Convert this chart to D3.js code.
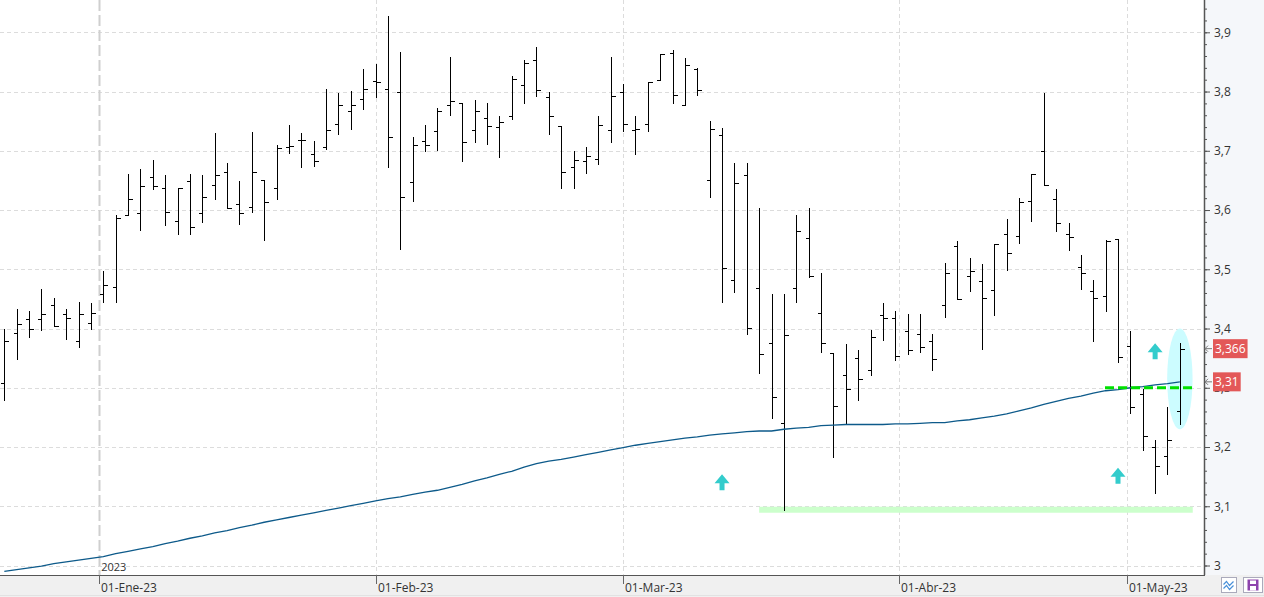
<!DOCTYPE html>
<html>
<head>
<meta charset="utf-8">
<script src="https://cdn.jsdelivr.net/npm/d3@7"></script>
<style>
  body { margin: 0; background: #fff; overflow: hidden; }
  text { font-family: "Segoe UI", "Open Sans", "Noto Sans", sans-serif; }
</style>
</head>
<body>
<script>
// ---- data ----
const firstDay = '2022-12-20'
const holidays = ['2022-12-26', '2023-04-07', '2023-04-10', '2023-05-01']
const monthStarts = ['2023-01-01', '2023-02-01', '2023-03-01', '2023-04-01', '2023-05-01']

const opens = [3.308,3.392,3.416,3.416,3.440,3.425,3.379,3.409,3.458,3.470,
  3.591,3.595,3.655,3.637,3.581,3.649,3.595,3.643,3.665,3.610,
  3.605,3.650,3.637,3.706,3.719,3.694,3.706,3.745,3.768,3.787,
  3.817,3.804,3.799,3.647,3.717,3.733,3.778,3.780,3.735,3.755,
  3.740,3.758,3.811,3.854,3.790,3.741,3.672,3.682,3.686,3.735,
  3.800,3.735,3.746,3.820,3.865,3.778,3.838,3.650,3.727,3.482,
  3.659,3.469,3.376,3.240,3.469,3.553,3.427,3.359,3.322,3.351,
  3.330,3.423,3.418,3.396,3.391,3.379,3.440,3.540,3.489,3.481,
  3.465,3.560,3.557,3.616,3.700,3.619,3.560,3.504,3.464,3.455,
  3.551,3.371,3.290,3.200,3.184,3.260]
const highs = [3.400,3.433,3.430,3.467,3.452,3.433,3.445,3.443,3.497,3.591,
  3.661,3.669,3.685,3.659,3.638,3.661,3.659,3.730,3.679,3.649,
  3.731,3.650,3.709,3.743,3.730,3.716,3.804,3.798,3.801,3.838,
  3.847,3.928,3.866,3.724,3.743,3.772,3.858,3.780,3.785,3.780,
  3.758,3.826,3.854,3.875,3.800,3.741,3.700,3.707,3.758,3.859,
  3.812,3.758,3.816,3.863,3.870,3.856,3.839,3.751,3.739,3.679,
  3.679,3.604,3.459,3.458,3.591,3.604,3.494,3.359,3.374,3.364,
  3.398,3.443,3.430,3.425,3.425,3.391,3.511,3.548,3.519,3.509,
  3.543,3.585,3.621,3.661,3.798,3.636,3.578,3.524,3.482,3.550,
  3.551,3.396,3.298,3.211,3.268,3.376]
const lows = [3.280,3.348,3.385,3.398,3.404,3.383,3.368,3.400,3.444,3.444,
  3.591,3.567,3.636,3.575,3.559,3.560,3.580,3.619,3.603,3.577,
  3.596,3.550,3.619,3.697,3.672,3.675,3.703,3.729,3.737,3.771,
  3.790,3.673,3.535,3.616,3.700,3.702,3.761,3.683,3.714,3.712,
  3.690,3.753,3.781,3.793,3.729,3.638,3.638,3.663,3.677,3.714,
  3.733,3.694,3.734,3.819,3.781,3.778,3.795,3.622,3.445,3.461,
  3.391,3.325,3.249,3.094,3.445,3.487,3.361,3.183,3.238,3.279,
  3.321,3.380,3.347,3.357,3.361,3.330,3.419,3.450,3.463,3.366,
  3.423,3.499,3.545,3.582,3.642,3.565,3.533,3.467,3.379,3.430,
  3.344,3.258,3.195,3.123,3.154,3.238]
const closes = [3.379,3.408,3.400,3.425,3.405,3.417,3.425,3.427,3.474,3.586,
  3.618,3.641,3.640,3.596,3.637,3.571,3.622,3.659,3.603,3.595,
  3.665,3.613,3.704,3.708,3.719,3.682,3.735,3.778,3.778,3.805,
  3.816,3.723,3.622,3.709,3.709,3.768,3.784,3.714,3.767,3.741,
  3.748,3.822,3.848,3.802,3.758,3.664,3.684,3.692,3.743,3.792,
  3.745,3.736,3.816,3.863,3.795,3.844,3.803,3.736,3.503,3.646,
  3.401,3.357,3.285,3.389,3.565,3.489,3.376,3.270,3.298,3.315,
  3.386,3.418,3.354,3.363,3.369,3.349,3.494,3.450,3.497,3.452,
  3.543,3.528,3.614,3.661,3.642,3.578,3.555,3.494,3.452,3.548,
  3.352,3.268,3.219,3.168,3.212,3.366]
// moving average as drawn on the chart
const movingAvg = [2.990,2.993,2.996,2.999,3.003,3.006,3.009,3.012,3.015,3.020,
  3.024,3.028,3.032,3.037,3.041,3.046,3.050,3.055,3.059,3.064,
  3.068,3.073,3.077,3.081,3.085,3.089,3.093,3.097,3.101,3.105,
  3.109,3.113,3.116,3.120,3.124,3.127,3.132,3.137,3.143,3.148,
  3.154,3.159,3.166,3.172,3.176,3.179,3.183,3.187,3.191,3.195,
  3.199,3.203,3.206,3.209,3.212,3.215,3.217,3.220,3.222,3.224,
  3.226,3.227,3.227,3.230,3.232,3.233,3.236,3.237,3.238,3.238,
  3.238,3.238,3.239,3.239,3.240,3.241,3.241,3.244,3.246,3.249,
  3.252,3.256,3.261,3.266,3.272,3.277,3.282,3.286,3.291,3.295,
  3.297,3.300,3.302,3.305,3.307,3.310]

const yTicks = [3, 3.1, 3.2, 3.3, 3.4, 3.5, 3.6, 3.7, 3.8, 3.9]
const lastClose = 3.366
const lastAvg = 3.31

// annotations (bar index / price)
const supportLevel = 3.094, supportFrom = 61, supportTo = 96.04
const dashLevel = 3.30, dashFrom = 88.95, dashTo = 96.0
const arrowIdx = [58, 90, 93]
const arrowTop = [3.154, 3.165, 3.375]
const ovalIdx = 95, ovalMid = 3.315, ovalHalf = 0.085

// ---- layout ----
const W = 1264, H = 597
const plotRight = 1204, plotBottom = 575

const utc = d => new Date(d + 'T00:00:00Z')
const dayMs = 86400000
const dates = []
for (let t = utc(firstDay).getTime(); dates.length < opens.length; t += dayMs) {
  const d = new Date(t)
  const wd = d.getUTCDay()
  if (wd === 0 || wd === 6) continue
  if (holidays.includes(d.toISOString().slice(0, 10))) continue
  dates.push(d)
}
const bars = opens.map((o, i) => ({i, o, h: highs[i], l: lows[i], c: closes[i], date: dates[i]}))

// position of a calendar date on the bar index axis
function datePos(d) {
  const t = d.getTime()
  const k = d3.bisectLeft(dates.map(x => x.getTime()), t)
  if (k < dates.length && dates[k].getTime() === t) return k
  const a = dates[k - 1].getTime(), b = dates[k].getTime()
  return k - 1 + (t - a) / (b - a)
}

const esLocale = d3.timeFormatLocale({
  dateTime: '%A, %e de %B de %Y, %X', date: '%d/%m/%Y', time: '%H:%M:%S',
  periods: ['AM', 'PM'],
  days: ['domingo','lunes','martes','miércoles','jueves','viernes','sábado'],
  shortDays: ['dom','lun','mar','mié','jue','vie','sáb'],
  months: ['enero','febrero','marzo','abril','mayo','junio','julio','agosto','septiembre','octubre','noviembre','diciembre'],
  shortMonths: ['Ene','Feb','Mar','Abr','May','Jun','Jul','Ago','Sep','Oct','Nov','Dic']
})
const fmtDate = esLocale.utcFormat('%d-%b-%y')
const numLocale = d3.formatLocale({decimal: ',', thousands: '.', grouping: [3], currency: ['', '€']})
const fmtTick = v => numLocale.format('.1f')(v).replace(/,0$/, '')
const months = monthStarts.map(s => ({date: utc(s), pos: datePos(utc(s)), label: fmtDate(utc(s))}))

const x = d3.scaleLinear().domain([-0.35, 96.95]).range([0, plotRight])
const y = d3.scaleLinear().domain([3, 3.9]).range([565.5, 32.3])

const svg = d3.select('body').append('svg')
  .attr('width', W).attr('height', H)

svg.append('rect').attr('width', W).attr('height', H).attr('fill', '#fff')
svg.append('rect').attr('x', plotRight).attr('y', 0)
  .attr('width', W - plotRight).attr('height', plotBottom).attr('fill', '#f5f7fa')
svg.append('rect').attr('x', 0).attr('y', plotBottom)
  .attr('width', W).attr('height', H - plotBottom).attr('fill', '#f0f0f0')
svg.append('line').attr('x1', 0).attr('x2', W).attr('y1', 595.5).attr('y2', 595.5)
  .attr('stroke', '#e2e2e2')

svg.append('clipPath').attr('id', 'plot')
  .append('rect').attr('width', plotRight).attr('height', plotBottom)

const g = svg.append('g').attr('clip-path', 'url(#plot)')

// grid
g.selectAll('.hgrid').data(yTicks).join('line')
  .attr('class', 'hgrid')
  .attr('x1', 0).attr('x2', plotRight)
  .attr('y1', d => Math.round(y(d)) + 0.5).attr('y2', d => Math.round(y(d)) + 0.5)
  .attr('stroke', '#dcdcdc').attr('stroke-dasharray', '4,3')

g.selectAll('.vgrid').data(months).join('line')
  .attr('class', 'vgrid')
  .attr('x1', d => Math.round(x(d.pos)) + 0.5).attr('x2', d => Math.round(x(d.pos)) + 0.5)
  .attr('y1', 0).attr('y2', plotBottom)
  .attr('stroke', (d, i) => i === 0 ? '#cfcfcf' : '#dcdcdc')
  .attr('stroke-width', (d, i) => i === 0 ? 2 : 1)
  .attr('stroke-dasharray', (d, i) => i === 0 ? '11,4' : '4,3')

// highlight oval on the last bar
g.append('ellipse')
  .attr('cx', x(ovalIdx)).attr('cy', y(ovalMid))
  .attr('rx', 12.7).attr('ry', y(ovalMid - ovalHalf) - y(ovalMid))
  .attr('fill', '#ccfcff')

// support band
g.append('line')
  .attr('x1', x(supportFrom)).attr('x2', x(supportTo))
  .attr('y1', y(supportLevel)).attr('y2', y(supportLevel))
  .attr('stroke', '#ccffcc').attr('stroke-width', 6)

// OHLC bars
const px = i => Math.round(x(i)) + 0.5
const py = v => Math.round(y(v)) + 0.5
const bar = g.selectAll('.bar').data(bars).join('g').attr('class', 'bar')
  .attr('stroke', '#000').attr('shape-rendering', 'crispEdges')
bar.append('line')
  .attr('x1', d => px(d.i)).attr('x2', d => px(d.i))
  .attr('y1', d => Math.round(y(d.h))).attr('y2', d => Math.round(y(d.l)) + 1)
bar.append('line')
  .attr('x1', d => px(d.i) - 4).attr('x2', d => px(d.i))
  .attr('y1', d => py(d.o)).attr('y2', d => py(d.o))
bar.append('line')
  .attr('x1', d => px(d.i)).attr('x2', d => px(d.i) + 4)
  .attr('y1', d => py(d.c)).attr('y2', d => py(d.c))

// moving average
g.append('path')
  .datum(movingAvg)
  .attr('fill', 'none').attr('stroke', '#0d5a8a').attr('stroke-width', 1.3)
  .attr('d', d3.line().x((d, i) => x(i)).y(d => y(d)))

// dashed level
g.append('line')
  .attr('x1', x(dashFrom)).attr('x2', x(dashTo))
  .attr('y1', y(dashLevel)).attr('y2', y(dashLevel))
  .attr('stroke', '#00e000').attr('stroke-width', 3).attr('stroke-dasharray', '9,4')

// up arrows
g.selectAll('.arrow').data(arrowIdx).join('path')
  .attr('class', 'arrow')
  .attr('fill', '#33cccc')
  .attr('d', (d, k) => {
    const cx = x(d), t = y(arrowTop[k])
    return `M${cx},${t} L${cx + 7.5},${t + 9} L${cx + 2.5},${t + 9} L${cx + 2.5},${t + 16}` +
      ` L${cx - 2.5},${t + 16} L${cx - 2.5},${t + 9} L${cx - 7.5},${t + 9} Z`
  })

// "2023" year marker
svg.append('text').attr('x', x(months[0].pos) + 2).attr('y', 571)
  .attr('font-size', 11).attr('fill', '#333').text(months[0].date.getUTCFullYear())

// right axis
const minorTicks = d3.range(3, 3.96, 0.02).filter(v => y(v) > 0 && y(v) < plotBottom)
svg.append('g').attr('transform', `translate(${plotRight},0)`)
  .call(d3.axisRight(y).tickValues(minorTicks).tickSize(3).tickFormat(''))
  .call(a => a.select('.domain').remove())
  .call(a => a.selectAll('line').attr('stroke', '#555'))
svg.append('g').attr('transform', `translate(${plotRight},0)`)
  .call(d3.axisRight(y).tickValues(yTicks).tickSize(6).tickPadding(4).tickFormat(fmtTick))
  .call(a => a.select('.domain').remove())
  .call(a => a.selectAll('line').attr('stroke', '#555'))
  .call(a => a.selectAll('text').attr('font-size', 12).attr('fill', '#333')
    .attr('font-family', '"Segoe UI", "Open Sans", "Noto Sans", sans-serif'))
svg.append('line').attr('x1', plotRight + 0.5).attr('x2', plotRight + 0.5)
  .attr('y1', 0).attr('y2', plotBottom).attr('stroke', '#555').attr('stroke-width', 1.5)

// bottom axis
svg.append('line').attr('x1', 0).attr('x2', plotRight + 1)
  .attr('y1', plotBottom + 0.5).attr('y2', plotBottom + 0.5).attr('stroke', '#555')
const xa = svg.append('g').selectAll('g').data(months).join('g')
  .attr('transform', d => `translate(${Math.round(x(d.pos)) + 0.5},${plotBottom})`)
xa.append('line').attr('y1', 0).attr('y2', 9).attr('stroke', '#666')
xa.append('text').attr('x', 1.5).attr('y', 17).attr('font-size', 12).attr('fill', '#333')
  .text(d => d.label)

// last value labels
const tags = [
  {v: lastClose, text: numLocale.format('.3f')(lastClose)},
  {v: lastAvg, text: numLocale.format('.2f')(lastAvg)}
]
const tag = svg.selectAll('.tag').data(tags).join('g').attr('class', 'tag')
  .attr('transform', d => `translate(${plotRight + 9},${y(d.v)})`)
tag.append('rect').attr('y', -9.5).attr('height', 19).attr('fill', '#e35858')
tag.append('text').attr('x', 2).attr('y', 4.5).attr('font-size', 12).attr('fill', '#fff')
  .text(d => d.text)
tag.each(function() {
  const t = d3.select(this)
  const w = t.select('text').node().getComputedTextLength()
  t.select('rect').attr('width', w + 4)
})
tag.append('path')
  .attr('d', 'M-1,0 L-8,0 M-5,-3 L-8,0 L-5,3')
  .attr('fill', 'none').attr('stroke', '#777').attr('stroke-width', 1)

// corner buttons
const b1 = svg.append('g').attr('transform', 'translate(1221.5,577.5)')
b1.append('rect').attr('width', 15).attr('height', 15).attr('fill', '#fff').attr('stroke', '#aab')
b1.append('path').attr('d', 'M2,7 L5,4 L8,8 L12,4 M2,11 L5,8 L8,12 L12,8')
  .attr('fill', 'none').attr('stroke', '#4a90d9').attr('stroke-width', 1.2)
const b2 = svg.append('g').attr('transform', 'translate(1243.5,577.5)')
b2.append('rect').attr('width', 19).attr('height', 15).attr('fill', '#fff').attr('stroke', '#aab')
b2.append('rect').attr('x', 4).attr('y', 2).attr('width', 11).attr('height', 11).attr('fill', '#8e44ad')
b2.append('rect').attr('x', 6.5).attr('y', 3).attr('width', 6).attr('height', 3.5).attr('fill', '#fff')
b2.append('rect').attr('x', 6.5).attr('y', 8.5).attr('width', 6).attr('height', 4.5).attr('fill', '#fff')
</script>
</body>
</html>
